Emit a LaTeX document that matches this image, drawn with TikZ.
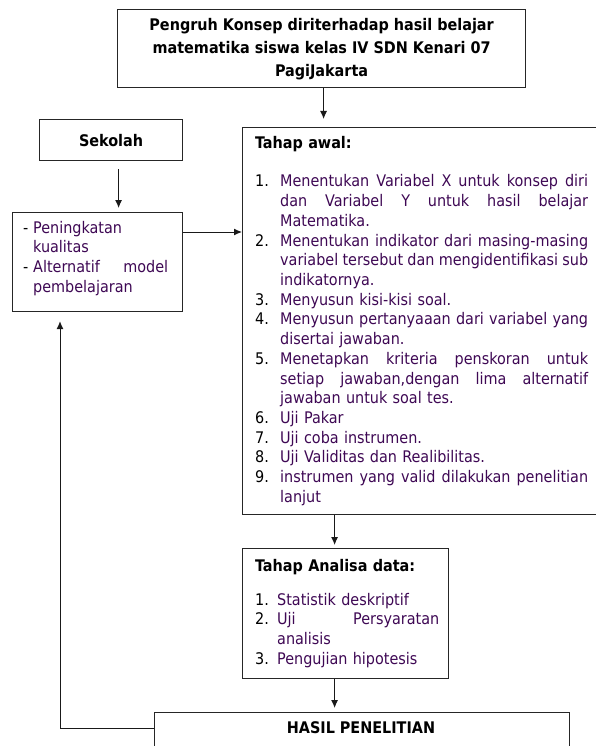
\documentclass[tikz,border=0pt]{standalone}
\usepackage{fontspec}
\setmainfont{DejaVu Sans Condensed}
\usetikzlibrary{arrows.meta}
\definecolor{ungu}{RGB}{62,8,84}
\newcommand{\nomor}[2]{\makebox[#1][l]{\color{black}#2}}
\newcommand{\rata}[2]{\makebox[#1][s]{\spaceskip=0pt\xspaceskip=0pt\relax #2}}

\begin{document}
\begin{tikzpicture}[x=1pt,y=-1pt,
    kotak/.style={draw=black!85,line width=1.2pt,inner sep=0pt,anchor=north west},
    panah/.style={draw=black!90,line width=1pt,-{Latex[length=8pt,width=7pt]}},
    isi/.style={inner sep=0pt,anchor=base west,align=left,text=ungu},
    judulfont/.style={font=\fontsize{16}{23}\selectfont\bfseries},
    font=\fontsize{16}{19.7}\selectfont]
    \useasboundingbox (0,0) rectangle (596,746);
    \clip (0,0) rectangle (596,746);
    \node[kotak,minimum width=408pt,minimum height=78pt] (judul) at (117,9) {};
    \node[kotak,minimum width=143pt,minimum height=41pt] (sekolah) at (39,119) {};
    \node[kotak,minimum width=170pt,minimum height=99pt] (pening) at (12,212) {};
    \node[kotak,minimum width=380pt,minimum height=387pt] (awal) at (242,127) {};
    \node[kotak,minimum width=206pt,minimum height=130pt] (analisa) at (242,548) {};
    \node[kotak,minimum width=415pt,minimum height=60pt] (hasil) at (154,712) {};
    \node[judulfont,align=center] (judulteks) at ([yshift=-1pt]judul.center)
      {Pengruh Konsep diriterhadap hasil belajar\\matematika siswa kelas IV SDN Kenari 07\\PagiJakarta};
    \node[font=\fontsize{16}{19.7}\selectfont\bfseries] (sekolahteks) at (sekolah.center) {Sekolah};
    \node[font=\fontsize{16}{19.7}\selectfont\bfseries] (hasilteks) at (361,728) {HASIL PENELITIAN};
    \node[isi,text width=150pt] (peningteks) at (23,233) {%
      \nomor{10pt}{-}Peningkatan\\
      \hspace*{10pt}kualitas\\
      \nomor{10pt}{-}\rata{135pt}{Alternatif model}\\
      \hspace*{10pt}pembelajaran};
    \node[isi,text width=333pt] (awalteks) at (255,149) {%
      {\color{black}\bfseries Tahap awal:}\\[18.3pt]
      \nomor{25pt}{1.}\rata{308pt}{Menentukan Variabel X untuk konsep diri}\\
      \hspace*{25pt}\rata{308pt}{dan Variabel Y untuk hasil belajar}\\
      \hspace*{25pt}Matematika.\\
      \nomor{25pt}{2.}\rata{308pt}{Menentukan indikator dari masing-masing}\\
      \hspace*{25pt}\rata{308pt}{variabel tersebut dan mengidentifikasi sub}\\
      \hspace*{25pt}indikatornya.\\
      \nomor{25pt}{3.}Menyusun kisi-kisi soal.\\
      \nomor{25pt}{4.}\rata{308pt}{Menyusun pertanyaaan dari variabel yang}\\
      \hspace*{25pt}disertai jawaban.\\
      \nomor{25pt}{5.}\rata{308pt}{Menetapkan kriteria penskoran untuk}\\
      \hspace*{25pt}\rata{308pt}{setiap jawaban,dengan lima alternatif}\\
      \hspace*{25pt}jawaban untuk soal tes.\\
      \nomor{25pt}{6.}Uji Pakar\\
      \nomor{25pt}{7.}Uji coba instrumen.\\
      \nomor{25pt}{8.}Uji Validitas dan Realibilitas.\\
      \nomor{25pt}{9.}\rata{308pt}{instrumen yang valid dilakukan penelitian}\\
      \hspace*{25pt}lanjut};
    \node[isi,text width=185pt] (analisateks) at (255,571) {%
      {\color{black}\bfseries Tahap Analisa data:}\\[14.3pt]
      \nomor{22pt}{1.}Statistik deskriptif\\
      \nomor{22pt}{2.}\rata{162pt}{Uji Persyaratan}\\
      \hspace*{22pt}analisis\\
      \nomor{22pt}{3.}Pengujian hipotesis};
    \coordinate (j1) at ([xshift=2pt]judul.south);
    \coordinate (s1) at ([xshift=7.5pt,yshift=-8pt]sekolah.south);
    \coordinate (p1) at ([yshift=-20pt]pening.north east);
    \coordinate (a1) at ([xshift=-11pt]analisa.north);
    \coordinate (a2) at ([xshift=-11pt]analisa.south);
    \coordinate (b1) at ([xshift=48pt,yshift=-9pt]pening.south west);
    \draw[panah,shorten >=8pt] (j1) -- (j1 |- awal.north);
    \draw[panah,shorten >=4pt] (s1) -- (s1 |- pening.north);
    \draw[panah] (p1) -- (p1 -| awal.west);
    \draw[panah,shorten >=3pt] (a1 |- awal.south) -- (a1);
    \draw[panah,shorten >=4pt] (a2) -- (a2 |- hasil.north);
    \draw[panah] (hasilteks -| hasil.west) -| (b1);
  \end{tikzpicture}
\end{document}
